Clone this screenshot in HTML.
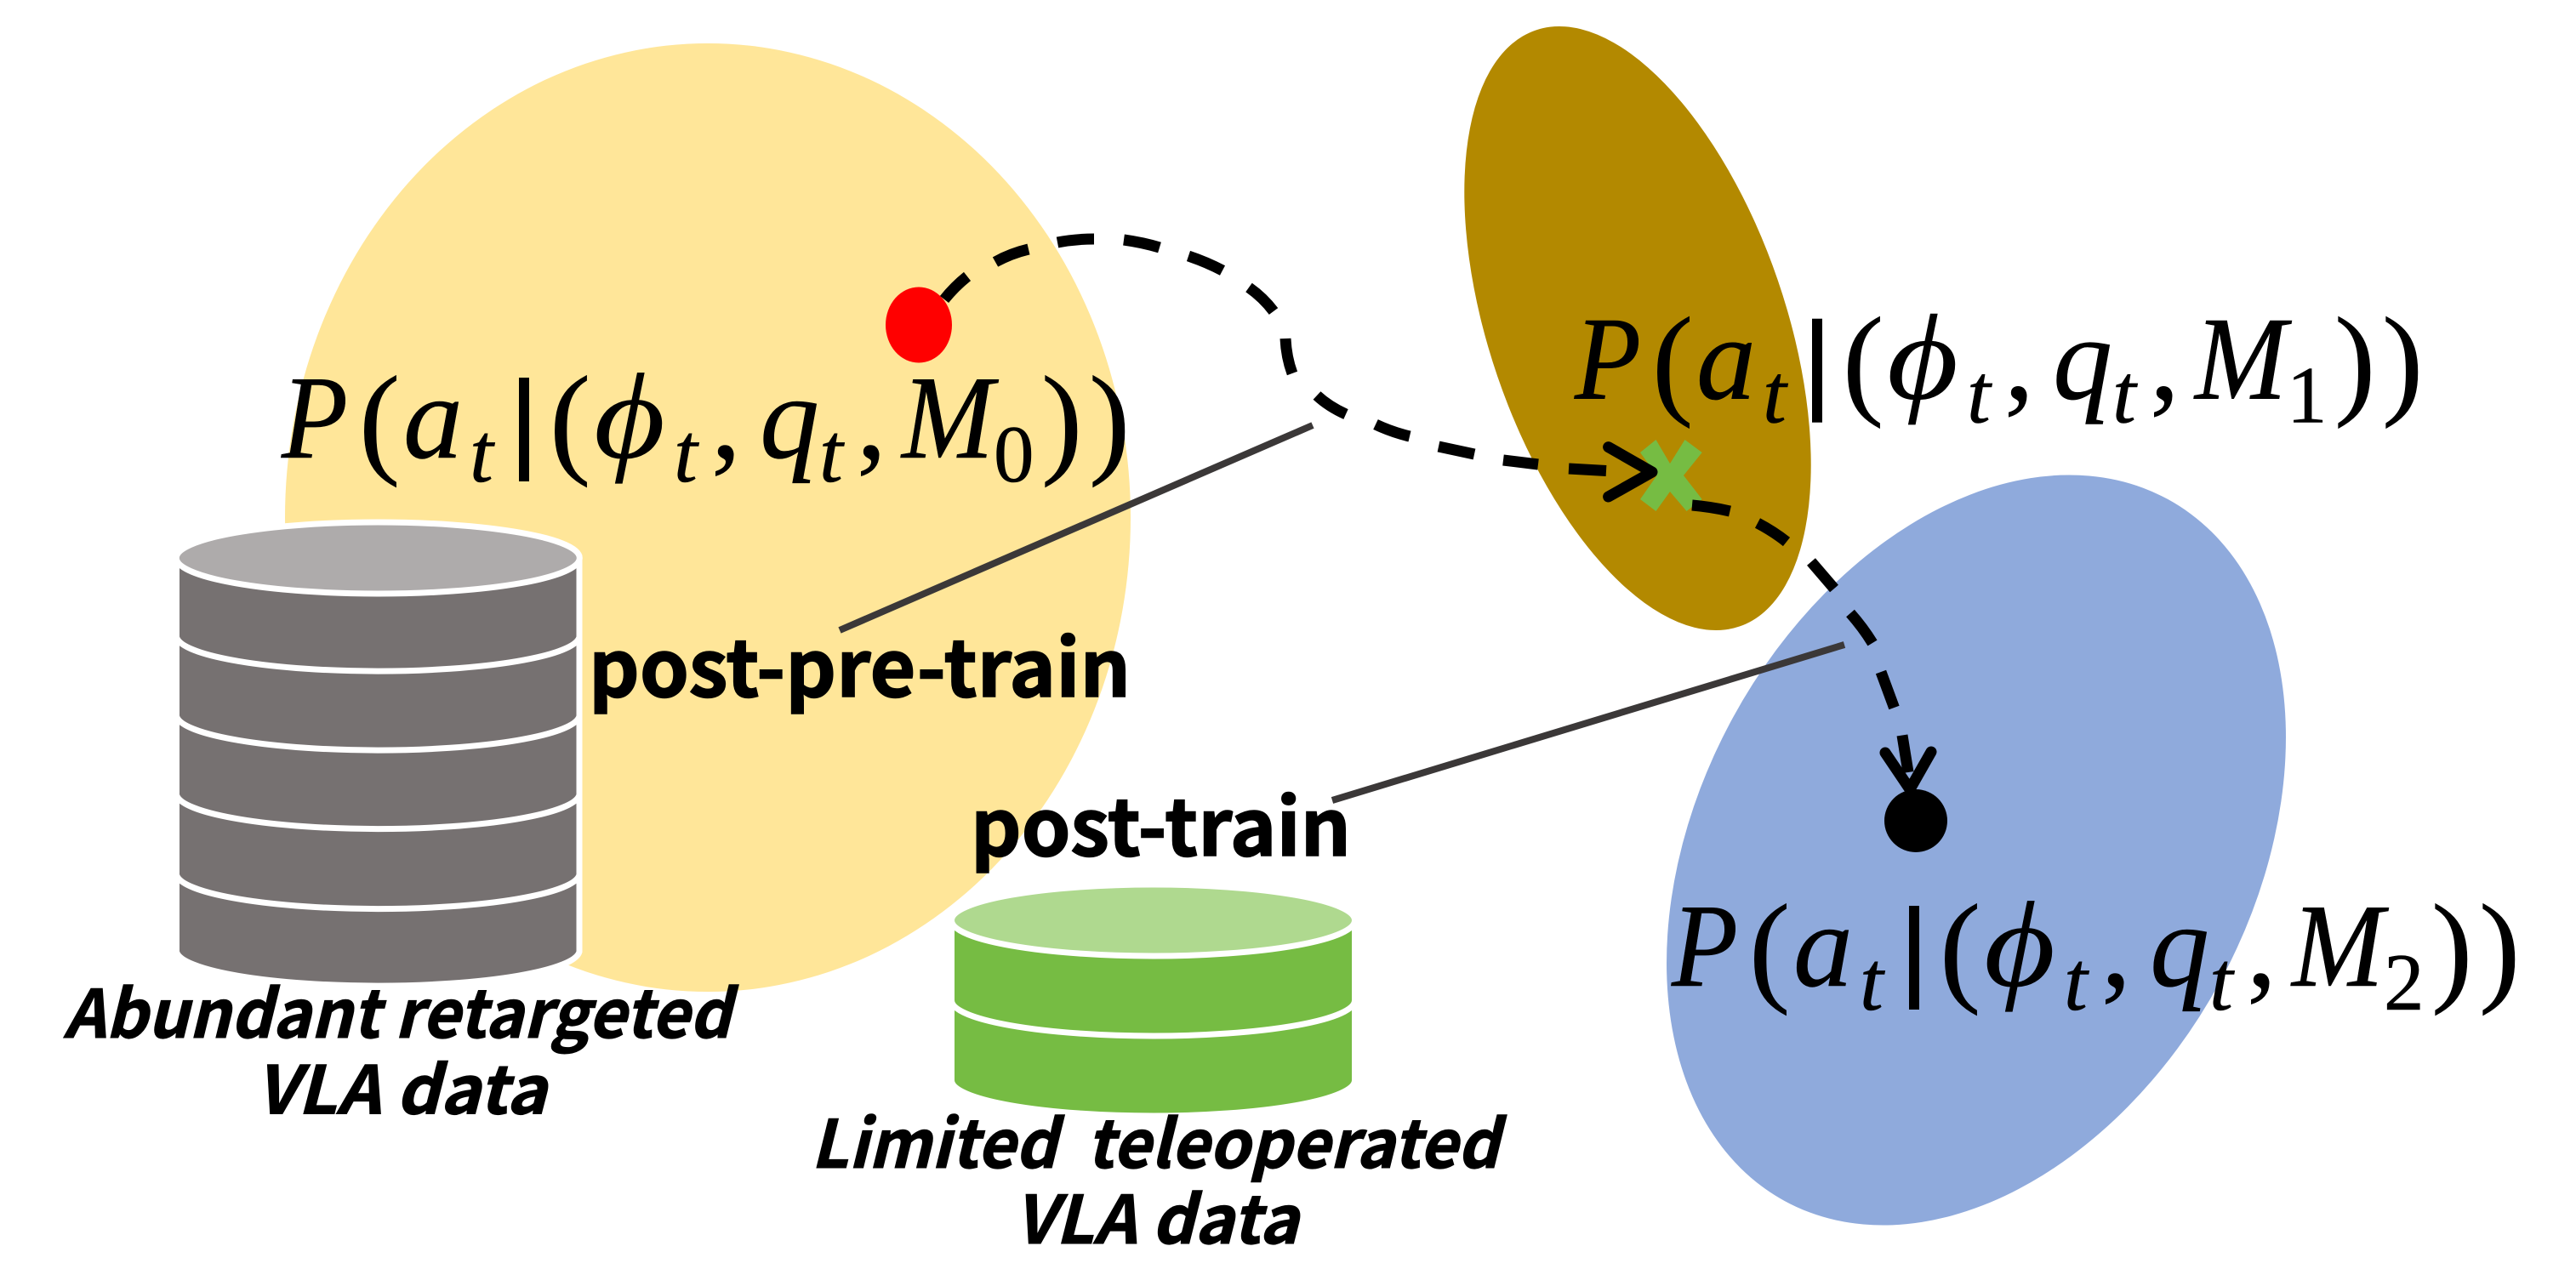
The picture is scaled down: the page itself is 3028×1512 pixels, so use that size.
<!DOCTYPE html>
<html><head><meta charset="utf-8"><title>Diagram</title>
<style>
html,body{margin:0;padding:0;background:#fff}
svg{display:block}
.m{font-family:"Liberation Serif",serif;font-style:italic;font-size:140px;fill:#000;stroke:#000;stroke-width:.6px}
.f{stroke:none;font-size:144px}
.r{font-style:normal}
.p{font-style:normal;font-size:145px}
.s{font-size:100px}
.d{font-style:normal;font-size:95px}
.b{font-family:"Noto Sans CJK SC","Liberation Sans",sans-serif;font-weight:700;font-size:92px;fill:#000;stroke:#000;stroke-width:1.5px}
.i{font-family:"Noto Sans CJK SC","Liberation Sans",sans-serif;font-weight:700;font-style:italic;font-size:78px;fill:#000;stroke:#000;stroke-width:1px}
</style></head><body>
<svg xmlns="http://www.w3.org/2000/svg" width="3028" height="1512" viewBox="0 0 3028 1512">
<rect width="3028" height="1512" fill="#fff"/>
<ellipse cx="832" cy="608.5" rx="497" ry="557.5" fill="#FFE699"/>
<ellipse cx="1925" cy="386" rx="174.2" ry="370.4" transform="rotate(-18.85 1925 386)" fill="#B38900"/>
<ellipse cx="2323" cy="999.500" rx="325.7" ry="470" transform="rotate(28.65 2323 999.500)" fill="#8FAADC"/>

<!-- gray database -->
<g stroke="#fff" stroke-width="7">
<path d="M207.5 656V1119A237 42 0 0 0 681 1119V656Z" fill="#767171"/>
<ellipse cx="444.3" cy="656" rx="237" ry="42" fill="#AEABAB"/>
<g fill="none">
<path d="M207.5 749A237 42 0 0 0 681 749"/>
<path d="M207.5 842A237 42 0 0 0 681 842"/>
<path d="M207.5 934.5A237 42 0 0 0 681 934.5"/>
<path d="M207.5 1028.5A237 42 0 0 0 681 1028.5"/>
</g></g>

<!-- green database -->
<g stroke="#fff" stroke-width="7">
<path d="M1118.5 1082V1270A237 42 0 0 0 1592.5 1270V1082Z" fill="#76BC43"/>
<ellipse cx="1355.5" cy="1082" rx="237" ry="42" fill="#AFD98F"/>
<path d="M1118.5 1176A237 42 0 0 0 1592.5 1176" fill="none"/>
</g>

<!-- leader lines -->
<g stroke="#3B3838" stroke-width="8" fill="none">
<path d="M987 741L1543 500"/>
<path d="M1566 941L2168 758"/>
</g>

<!-- markers -->
<ellipse cx="1080" cy="382" rx="39" ry="44.5" fill="#f00"/>
<ellipse cx="2252" cy="965" rx="37" ry="37" fill="#000"/>
<polygon fill="#76BC43" points="1928,532 1946.500,517 1963,545 1980.500,517 2000.700,532 1979,559 2000.700,587 1982.500,601 1963,578 1946.500,601 1928,587 1947.500,559"/>

<!-- dashed paths -->
<g stroke="#000" stroke-width="13" fill="none">
<path d="M1110 352Q1122 337 1137 325"/>
<path d="M1170 308Q1188 298 1209 293"/>
<path d="M1243 285Q1264 281 1286 281"/>
<path d="M1321 282Q1343 285 1363 291"/>
<path d="M1397 301Q1418 308 1437 318"/>
<path d="M1468 338Q1485 350 1497 366"/>
<path d="M1511 398Q1512 420 1519 439"/>
<path d="M1548 465Q1562 478 1582 487"/>
<path d="M1617 499Q1636 508 1657 513"/>
<path d="M1691 525L1733 534"/>
<path d="M1767 541L1808 546"/>
<path d="M1844 551L1888 553.500"/>
<path d="M1989 594Q2012 596 2033.500 601"/>
<path d="M2066 615Q2085 625 2100 637"/>
<path d="M2129 660.500L2156 692"/>
<path d="M2175 721Q2190 738 2201 756"/>
<path d="M2211 790L2226.500 832"/>
<path d="M2236 864.500L2243 908"/>
<g stroke-linecap="round" stroke-linejoin="round">
<path d="M1890.600 525.600L1942 555L1890.600 584"/>
<path d="M2216 885L2245 928L2270 884"/>
</g>
</g>

<!-- M0 -->
<g>
<text class="m" x="331" y="538" textLength="78" lengthAdjust="spacingAndGlyphs">P</text>
<text class="m p" x="422" y="542">(</text>
<text class="m" x="474" y="538">a</text>
<text class="m s" x="552" y="566">t</text>
<rect x="610" y="444" width="12" height="122" fill="#000"/>
<text class="m p" x="646" y="542">(</text>
<text class="m f" x="698" y="538" textLength="84" lengthAdjust="spacingAndGlyphs">ϕ</text>
<text class="m s" x="792" y="566">t</text>
<text class="m r" x="836" y="538">,</text>
<text class="m" x="893" y="538">q</text>
<text class="m s" x="963" y="566">t</text>
<text class="m r" x="1007" y="538">,</text>
<text class="m" x="1060" y="538" textLength="108" lengthAdjust="spacingAndGlyphs">M</text>
<text class="m d" x="1168" y="566">0</text>
<text class="m p" x="1224" y="542">)</text>
<text class="m p" x="1280" y="542">)</text>
</g>
<!-- M1 -->
<g transform="translate(1520 -69.300)">
<text class="m" x="331" y="538" textLength="78" lengthAdjust="spacingAndGlyphs">P</text>
<text class="m p" x="422" y="542">(</text>
<text class="m" x="474" y="538">a</text>
<text class="m s" x="552" y="566">t</text>
<rect x="610" y="444" width="12" height="122" fill="#000"/>
<text class="m p" x="646" y="542">(</text>
<text class="m f" x="698" y="538" textLength="84" lengthAdjust="spacingAndGlyphs">ϕ</text>
<text class="m s" x="792" y="566">t</text>
<text class="m r" x="836" y="538">,</text>
<text class="m" x="893" y="538">q</text>
<text class="m s" x="963" y="566">t</text>
<text class="m r" x="1007" y="538">,</text>
<text class="m" x="1060" y="538" textLength="108" lengthAdjust="spacingAndGlyphs">M</text>
<text class="m d" x="1168" y="566">1</text>
<text class="m p" x="1224" y="542">)</text>
<text class="m p" x="1280" y="542">)</text>
</g>
<!-- M2 -->
<g transform="translate(1634 621)">
<text class="m" x="331" y="538" textLength="78" lengthAdjust="spacingAndGlyphs">P</text>
<text class="m p" x="422" y="542">(</text>
<text class="m" x="474" y="538">a</text>
<text class="m s" x="552" y="566">t</text>
<rect x="610" y="444" width="12" height="122" fill="#000"/>
<text class="m p" x="646" y="542">(</text>
<text class="m f" x="698" y="538" textLength="84" lengthAdjust="spacingAndGlyphs">ϕ</text>
<text class="m s" x="792" y="566">t</text>
<text class="m r" x="836" y="538">,</text>
<text class="m" x="893" y="538">q</text>
<text class="m s" x="963" y="566">t</text>
<text class="m r" x="1007" y="538">,</text>
<text class="m" x="1060" y="538" textLength="108" lengthAdjust="spacingAndGlyphs">M</text>
<text class="m d" x="1168" y="566">2</text>
<text class="m p" x="1224" y="542">)</text>
<text class="m p" x="1280" y="542">)</text>
</g>

<text class="b" x="692" y="819" textLength="637" lengthAdjust="spacingAndGlyphs">post-pre-train</text>
<text class="b" x="1141" y="1006" textLength="447" lengthAdjust="spacingAndGlyphs">post-train</text>
<text class="i" x="75" y="1220" textLength="784" lengthAdjust="spacingAndGlyphs">Abundant retargeted</text>
<text class="i" x="300" y="1309.500" textLength="342" lengthAdjust="spacingAndGlyphs">VLA data</text>
<text class="i" x="953" y="1373" textLength="809" lengthAdjust="spacingAndGlyphs" xml:space="preserve">Limited  teleoperated</text>
<text class="i" x="1192" y="1462" textLength="334" lengthAdjust="spacingAndGlyphs">VLA data</text>
</svg>
</body></html>
